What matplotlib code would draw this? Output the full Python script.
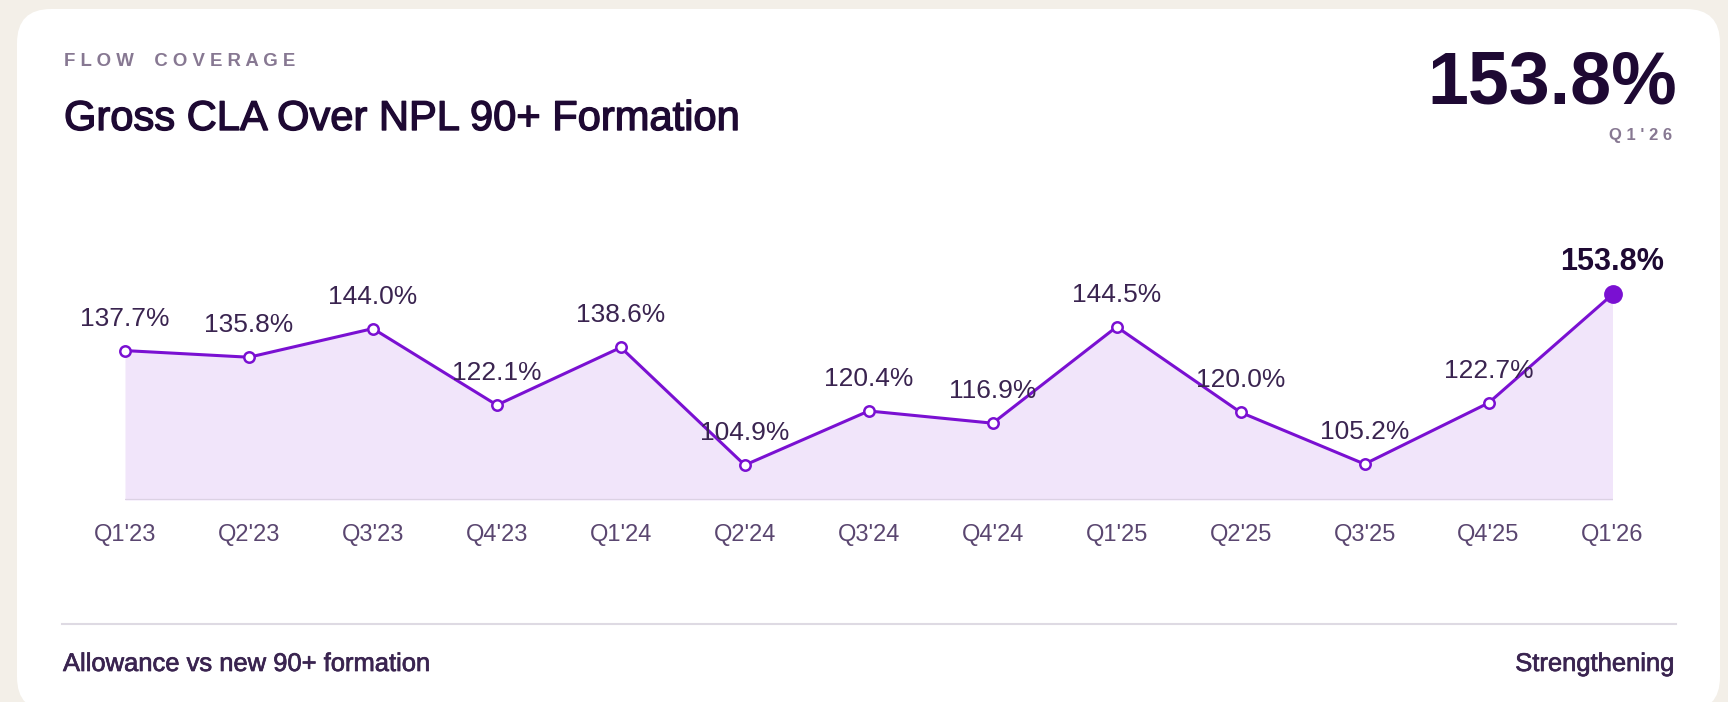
import matplotlib
matplotlib.use("Agg")
import matplotlib.pyplot as plt
import matplotlib.patheffects as pe
from matplotlib.patches import FancyBboxPatch
import numpy as np

plt.rcParams['font.family'] = ['Liberation Sans', 'DejaVu Sans']

quarters = ["Q1'23", "Q2'23", "Q3'23", "Q4'23", "Q1'24", "Q2'24", "Q3'24",
            "Q4'24", "Q1'25", "Q2'25", "Q3'25", "Q4'25", "Q1'26"]
coverage = [137.7, 135.8, 144.0, 122.1, 138.6, 104.9, 120.4,
            116.9, 144.5, 120.0, 105.2, 122.7, 153.8]

eyebrow = "FLOW COVERAGE"
title = "Gross CLA Over NPL 90+ Formation"
headline = "153.8%"
headline_period = "Q1'26"
footer_left = "Allowance vs new 90+ formation"
footer_right = "Strengthening"

# colours
BG = '#F3EFE8'
PURPLE = '#7A10D2'
FILL = '#F1E5FA'
DARK = '#1E0933'
LABEL = '#3A2450'
MUTED = '#877892'
TICK = '#5A4670'

W, H = 1728, 702
fig = plt.figure(figsize=(W / 100, H / 100), dpi=100, facecolor=BG)

# background axes in pixel coords (y downward)
bg = fig.add_axes([0, 0, 1, 1])
bg.set_xlim(0, W)
bg.set_ylim(H, 0)
bg.axis('off')
bg.add_patch(FancyBboxPatch((17, 9), 1703, 702, boxstyle="round,pad=0,rounding_size=34",
                            fc='white', ec='none'))

def spaced(s, gap=' ', word_gap='    '):
    return word_gap.join(gap.join(w) for w in s.split(' '))

bg.text(64, 66.5, spaced(eyebrow), fontsize=13.4, fontweight='bold', color=MUTED,
        ha='left', va='baseline')
bg.text(64, 130, title, fontsize=30, color=DARK, ha='left', va='baseline',
        path_effects=[pe.withStroke(linewidth=1.0, foreground=DARK)])
bg.text(1677, 104, headline, fontsize=53, fontweight='bold', color=DARK,
        ha='right', va='baseline')
bg.text(1672, 140, spaced(headline_period), fontsize=12, fontweight='bold', color=MUTED,
        ha='right', va='baseline')

bg.plot([62, 1676], [624, 624], color='#DEDAE3', lw=1.5)
bg.text(63, 671, footer_left, fontsize=18.4, color=LABEL, ha='left', va='baseline',
        path_effects=[pe.withStroke(linewidth=0.5, foreground=LABEL)])
bg.text(1674, 671, footer_right, fontsize=18.4, color=LABEL, ha='right', va='baseline',
        path_effects=[pe.withStroke(linewidth=0.5, foreground=LABEL)])

# chart axes placed from pixel layout
x0_px, x1_px = 125, 1612.5
base_px, px_per_pct = 500, 3.491
y_min = min(coverage) - 10
y_max = 160
top_px = base_px - (y_max - y_min) * px_per_pct
ax = fig.add_axes([x0_px / W, 1 - base_px / H, (x1_px - x0_px) / W, (base_px - top_px) / H])
ax.patch.set_alpha(0)
for s in ax.spines.values():
    s.set_visible(False)

x = np.arange(len(quarters))
ax.set_xlim(0, len(quarters) - 1)
ax.set_ylim(y_min, y_max)

ax.fill_between(x, coverage, y_min, color=FILL, lw=0, zorder=1)
ax.axhline(y_min, color='#DCD2E4', lw=1.6, zorder=2)
ax.plot(x, coverage, color=PURPLE, lw=2.2, zorder=3, solid_joinstyle='round')
ax.plot(x[:-1], coverage[:-1], 'o', ms=7.5, mfc='white', mec=PURPLE, mew=1.8,
        zorder=4, clip_on=False)
ax.plot(x[-1], coverage[-1], 'o', ms=12.5, color=PURPLE, mec=PURPLE, zorder=5, clip_on=False)

for i, v in enumerate(coverage):
    last = i == len(coverage) - 1
    ax.annotate(f"{v:.1f}%", (i, v), xytext=(0, 23), textcoords='offset points',
                ha='center', va='center', fontsize=22 if last else 19,
                fontweight='bold' if last else 'normal',
                color=DARK if last else LABEL, zorder=6, annotation_clip=False)

ax.set_xticks(x, quarters)
ax.set_yticks([])
ax.tick_params(axis='x', length=0, pad=17, labelsize=17, labelcolor=TICK)

fig.savefig('out.png', dpi=100, facecolor=BG)
